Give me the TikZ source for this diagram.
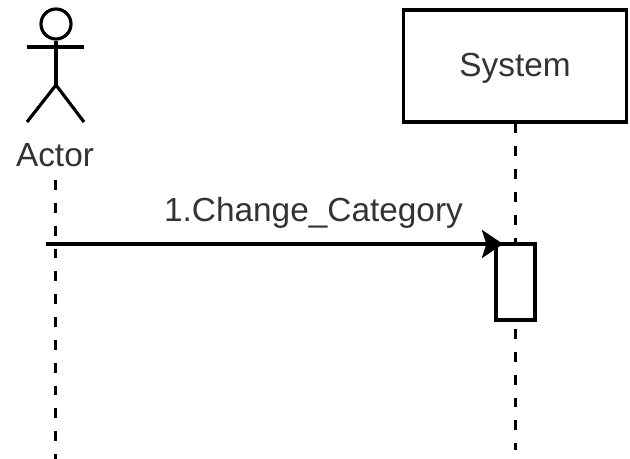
\documentclass[tikz,border=0pt]{standalone}
\usepackage{fontspec}
\setmainfont{Liberation Sans}
\usetikzlibrary{arrows.meta,positioning}

\begin{document}
\begin{tikzpicture}[x=0.02cm,y=-0.02cm,
        line width=1.8pt,
        label/.style={text=black!80,font=\fontsize{19}{23}\selectfont,inner sep=0pt},
        lifeline/.style={dash pattern=on 5.6pt off 7.4pt},
        message/.style={-{Stealth[length=12pt,width=16pt,inset=2.5pt]}}
    ]
    \useasboundingbox (0,0) rectangle (630,459);
    % actor
    \node(head) [circle,draw,minimum size=0.6cm,inner sep=0pt] at (56,24) {};
    \coordinate(hip) at (56,85);
    \coordinate(larm) at (27,47);
    \coordinate(rarm) at (84,47);
    \coordinate(lfoot) at (27,122);
    \coordinate(rfoot) at (84,122);
    \draw (head.south) -- (hip);
    \draw (larm) -- (rarm);
    \draw (lfoot) -- (hip) -- (rfoot);
    \node(actor) [label,anchor=base] at (55,167) {Actor};
    % system
    \node(system) [draw,minimum width=4.47cm,minimum height=2.24cm,label] at (515,66) {};
    \node(systemtext) [label,yshift=-0.04cm] at (system.center) {System};
    % lifelines
    \coordinate(actorstart) at (55.5,180);
    \coordinate(actorend) at (55.5,459);
    \coordinate(systemend) at (515.5,450);
    \draw[lifeline] (actorstart) -- (actorend);
    \draw[lifeline] (system.south -| systemend) -- (systemend);
    % activation
    \node(active) [draw,fill=white,minimum width=0.78cm,minimum height=1.52cm,inner sep=0pt] at (515.5,282) {};
    % message
    \coordinate(msgstart) at (46,244);
    \coordinate(msgend) at (503,244);
    \draw[message] (msgstart) -- (msgend);
    \node(msglabel) [label,anchor=base] at (313.5,222) {1.Change\_Category};
\end{tikzpicture}
\end{document}
